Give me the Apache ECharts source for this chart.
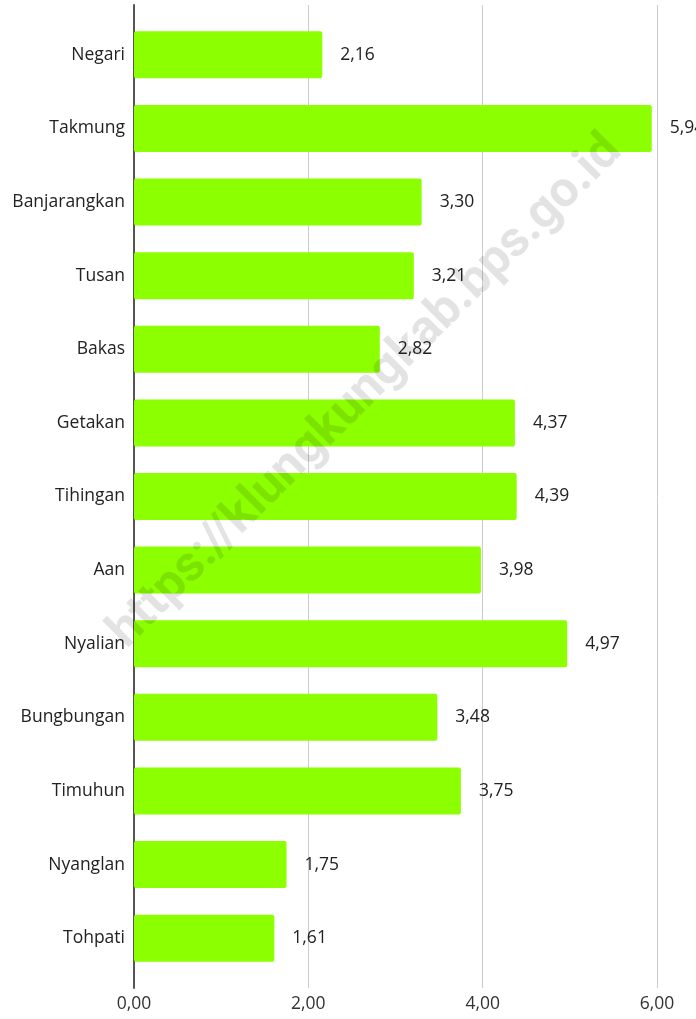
<!DOCTYPE html>
<html>
<head>
<meta charset="utf-8">
<script src="https://cdn.jsdelivr.net/npm/echarts@6/dist/echarts.min.js"></script>
<style>
  html, body { margin: 0; padding: 0; background: #fff; }
  #chart { width: 696px; height: 1019px; }
</style>
</head>
<body>
<div id="chart"></div>
<script>
// data
const categories = ['Negari', 'Takmung', 'Banjarangkan', 'Tusan', 'Bakas', 'Getakan', 'Tihingan',
  'Aan', 'Nyalian', 'Bungbungan', 'Timuhun', 'Nyanglan', 'Tohpati'];
const values = [2.16, 5.94, 3.30, 3.21, 2.82, 4.37, 4.39, 3.98, 4.97, 3.48, 3.75, 1.75, 1.61];
const xTicks = [0, 2, 4, 6];

const fmt = v => v.toFixed(2).replace('.', ',');
const font = '"Open Sans", Roboto, sans-serif';
const fs = 17.5;

const chart = echarts.init(document.getElementById('chart'));

chart.setOption({
  animation: false,
  grid: [
    // bars
    { left: 134, right: 39, top: 18, bottom: 44 },
    // background grid: longer lines and axis line
    { left: 134, right: 39, top: 5, bottom: 31 }
  ],
  xAxis: [
    {
      gridIndex: 0,
      type: 'value',
      min: xTicks[0],
      max: xTicks[xTicks.length - 1],
      interval: 2,
      axisLine: { show: false },
      axisTick: { show: false },
      splitLine: { show: false },
      axisLabel: { show: false }
    },
    {
      gridIndex: 1,
      type: 'value',
      min: xTicks[0],
      max: xTicks[xTicks.length - 1],
      interval: 2,
      axisLine: { show: false },
      axisTick: { show: false },
      splitLine: { show: true, lineStyle: { color: '#cccccc', width: 1 } },
      axisLabel: {
        show: true,
        margin: 7,
        fontSize: fs,
        fontFamily: font,
        color: '#333',
        formatter: v => fmt(v)
      }
    }
  ],
  yAxis: [
    {
      gridIndex: 0,
      type: 'category',
      inverse: true,
      data: categories,
      axisLine: { show: false },
      axisTick: { show: false },
      axisLabel: {
        margin: 9,
        fontSize: fs,
        fontFamily: font,
        color: '#222'
      }
    },
    {
      gridIndex: 1,
      type: 'value',
      min: 0,
      max: 1,
      axisLine: { show: true, lineStyle: { color: '#555', width: 2 } },
      axisTick: { show: false },
      splitLine: { show: false },
      axisLabel: { show: false }
    }
  ],
  series: [
    {
      type: 'bar',
      xAxisIndex: 0,
      yAxisIndex: 0,
      data: values,
      barWidth: 47,
      z: 3,
      itemStyle: { color: '#8cff00', borderRadius: 2 },
      label: {
        show: true,
        position: 'right',
        distance: 18,
        fontSize: fs,
        fontFamily: font,
        color: '#222',
        formatter: p => fmt(p.value)
      }
    }
  ],
  graphic: [
    {
      type: 'text',
      x: 366,
      y: 392,
      rotation: Math.PI / 4,
      z: 100,
      style: {
        text: 'https://klungkungkab.bps.go.id',
        font: 'bold 50px Roboto, sans-serif',
        fill: 'rgba(0,0,0,0.11)',
        textAlign: 'center',
        textVerticalAlign: 'middle'
      }
    }
  ]
});
</script>
</body>
</html>
